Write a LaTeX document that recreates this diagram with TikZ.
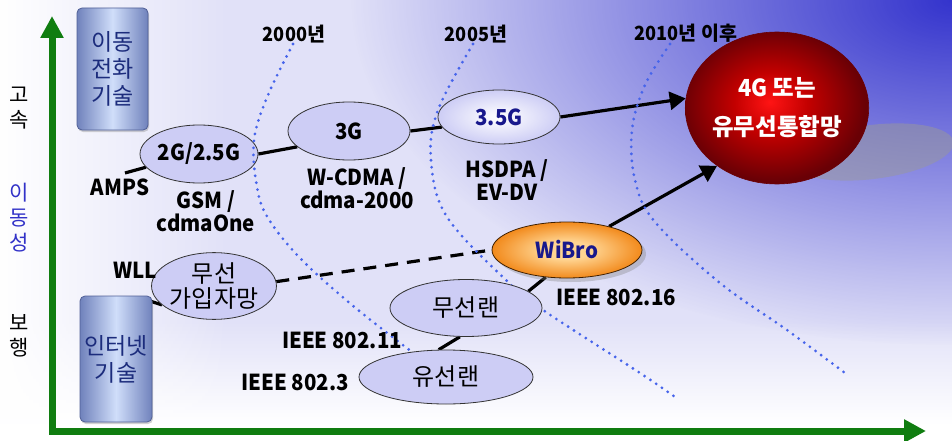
\documentclass[tikz,border=0pt]{standalone}
\usepackage{fontspec}
\setmainfont{Noto Sans CJK KR}
\newfontfamily\lat{Noto Sans CJK KR}[FakeStretch=0.93, BoldFeatures={FakeStretch=0.93}]
\usetikzlibrary{shapes.geometric,arrows.meta,shadows,fadings}
\definecolor{bgblue}{RGB}{52,52,205}
\colorlet{bglav}{bgblue!15!white}
\definecolor{axgreen}{RGB}{16,125,16}
\definecolor{lav}{RGB}{205,205,245}
\definecolor{dotblue}{RGB}{70,100,235}
\definecolor{txtblue}{RGB}{24,24,140}
\definecolor{boxdark}{RGB}{112,130,188}
\definecolor{boxlight}{RGB}{208,222,250}
\definecolor{boxborder}{RGB}{80,95,150}
\definecolor{boxtxt}{RGB}{28,44,124}
\definecolor{lblblue}{RGB}{50,50,200}
\definecolor{redA}{RGB}{255,20,20}
\definecolor{redB}{RGB}{195,0,0}
\definecolor{redC}{RGB}{105,0,5}
\definecolor{orA}{RGB}{255,212,145}
\definecolor{orB}{RGB}{242,138,28}
\pgfdeclareradialshading{redball}{\pgfpoint{-2bp}{2bp}}{color(0bp)=(redA); color(10bp)=(redB); color(25bp)=(redC); color(50bp)=(redC)}
\pgfdeclareradialshading{orball}{\pgfpoint{0bp}{0bp}}{color(0bp)=(orA); color(8bp)=(orA); color(25bp)=(orB); color(50bp)=(orB)}
\pgfdeclareradialshading{lavball}{\pgfpoint{0bp}{0bp}}{color(0bp)=(white); color(8bp)=(white!70!lav); color(25bp)=(lav); color(50bp)=(lav)}
\tikzfading[name=radfade, inner color=transparent!0, outer color=transparent!100]
\pgfdeclarelayer{bg}
\pgfdeclarelayer{lines}
\pgfsetlayers{bg,lines,main}
\newcommand{\kfs}{\fontsize{24}{27}\selectfont}
\newcommand{\afs}{\fontsize{21}{25}\selectfont}
\newcommand{\bfs}{\fontsize{23}{27}\selectfont}
\newcommand{\lfs}{\fontsize{22}{23.5}\selectfont\lat\bfseries}
\newcommand{\yfs}{\fontsize{19.5}{21}\selectfont\bfseries}
\tikzset{
  ell/.style={ellipse, draw=black!80, line width=0.8pt, fill=lav, inner sep=0pt, align=center},
  lbl/.style={inner sep=0pt, align=center, font=\lfs},
  klbl/.style={inner sep=0pt, align=center, font=\afs},
  yr/.style={inner sep=0pt, font=\yfs},
  techbox/.style={rectangle, rounded corners=5pt, draw=boxborder, line width=0.8pt,
    left color=boxdark, right color=boxdark, middle color=boxlight, text=boxtxt,
    font=\bfs, align=center, inner sep=0pt,
    drop shadow={shadow xshift=1pt, shadow yshift=-2pt, opacity=0.35}},
  conn/.style={black, line width=3.2pt},
  tip/.style={-{Triangle[length=16pt,width=18pt]}},
  dashconn/.style={black, line width=3.2pt, dash pattern=on 13pt off 9pt},
  dots/.style={dotblue, line width=3.1pt, line cap=round, dash pattern=on 0pt off 7pt},
  axis/.style={axgreen, line width=7pt, line join=miter}
}
\begin{document}
\begin{tikzpicture}[x=1pt,y=-1pt]
\useasboundingbox (0,0) rectangle (952,441);
\begin{pgfonlayer}{bg}
  \fill[white] (0,0) rectangle (952,441);
  \begin{scope}
    \clip (0,0) rectangle (952,441);
    \fill[bglav] (0,0) rectangle (952,320);
    \shade[top color=bglav, bottom color=white] (0,320) rectangle (952,425);
    \fill[white, path fading=east] (0,0) rectangle (230,441);
    \fill[bgblue, path fading=radfade] (952,0) ellipse [x radius=600, y radius=345];
  \end{scope}
  \fill[black!40, opacity=0.5, rotate around={7:(872,152)}] (872,152) ellipse [x radius=82, y radius=27];
\end{pgfonlayer}

% axes
\coordinate (origin) at (52,431);
\coordinate (ytop) at (52,16);
\coordinate (xend) at (926,431);
\draw[axis, {Triangle[length=22pt,width=22pt]}-{Triangle[length=22pt,width=22pt]}] (ytop) -- (origin) -- (xend);

% axis labels
\node[klbl] (gosok) at (19,108.5) {고\\속};
\node[klbl, text=lblblue] (idong) at (19,218) {이\\동\\성};
\node[klbl] (bohaeng) at (19,336) {보\\행};

% upper ellipses
\node[ell, minimum width=118pt, minimum height=58pt, font=\lfs] (p2g) at (199,154) {2G/2.5G};
\node[ell, minimum width=122pt, minimum height=58pt, font=\lfs] (p3g) at (349,131) {3G};
\node[ell, shading=lavball, minimum width=122pt, minimum height=54pt, text=txtblue, font=\lfs] (p35) at (499,117) {3.5G};

% year curves
\draw[dots] plot[smooth, tension=0.6] coordinates {(293,44) (268,95) (254,140) (257,187) (268,218) (300,258) (352,305) (412,352)};
\draw[dots] plot[smooth, tension=0.6] coordinates {(473,44) (438,110) (431,160) (447,217) (508,282) (543,310) (640,373) (675,397)};
\draw[dots] plot[smooth, tension=0.6] coordinates {(670,44) (645,85) (632,130) (635,180) (655,222) (720,283) (787,330) (845,373)};

% lower ellipses
\node[ell, minimum width=122pt, minimum height=58pt, font=\fontsize{24}{25.5}\selectfont] (wll) at (214,286) {무선\\가입자망};
\node[ell, minimum width=152pt, minimum height=57pt, font=\kfs] (mlan) at (466,308) {무선랜};
\node[ell, minimum width=174pt, minimum height=54pt, font=\kfs] (ulan) at (446,377) {유선랜};
\node[ell, shading=orball, draw=black!75!orange, minimum width=150pt, minimum height=56pt, text=txtblue, font=\lfs,
  drop shadow={shadow xshift=4pt, shadow yshift=-4pt, opacity=0.35}] (wibro) at (567,250) {WiBro};
\node[ellipse, shading=redball, draw=redC, line width=0.6pt, minimum width=178pt, minimum height=152pt,
  text=white, align=center, inner sep=0pt, font=\fontsize{23.5}{39}\selectfont\bfseries] (g4) at (777,108) {{\lat 4G} 또는\\유무선통합망};

% boxes
\node[techbox, minimum width=71pt, minimum height=122pt] (mobile) at (112.5,69) {이동\\전화\\기술};
\node[techbox, minimum width=72pt, minimum height=126pt] (inet) at (116,359) {인터넷\\기술};

% text labels
\node[lbl] (amps) at (120,187) {AMPS};
\node[lbl] (gsm) at (206,211) {GSM /\\cdmaOne};
\node[lbl] (wcdma) at (357,188) {W-CDMA /\\cdma-2000};
\node[lbl] (hsdpa) at (507,180) {HSDPA /\\EV-DV};
\node[lbl] (ieee16) at (616,297) {IEEE 802.16};
\node[lbl] (ieee11) at (342,340) {IEEE 802.11};
\node[lbl] (ieee3) at (295,382) {IEEE 802.3};
\node[lbl] (wlltxt) at (135,270) {WLL};
\node[yr] (y2000) at (294,34) {{\lat 2000}년};
\node[yr] (y2005) at (476,34) {{\lat 2005}년};
\node[yr] (y2010) at (686,33) {{\lat 2010}년 이후};

\coordinate (ampsend) at (125,173);
\coordinate (wllend) at (150,301);

% connectors
\begin{pgfonlayer}{lines}
  \draw[conn] (ampsend) -- (p2g.194);
  \draw[conn] (p2g.east) -- (p3g.197);
  \draw[conn] (p3g.east) -- (p35.190);
  \draw[conn, tip] (p35.east) -- (g4.174);
  \draw[conn, tip] (wibro) -- (g4.224);
  \draw[conn] (mlan.15) -- (wibro.232);
  \draw[conn] (ulan.105) -- (mlan.258);
  \draw[dashconn] (wll.4) -- (wibro.west);
  \draw[conn] (wllend) -- (wll.200);
\end{pgfonlayer}
\end{tikzpicture}
\end{document}
